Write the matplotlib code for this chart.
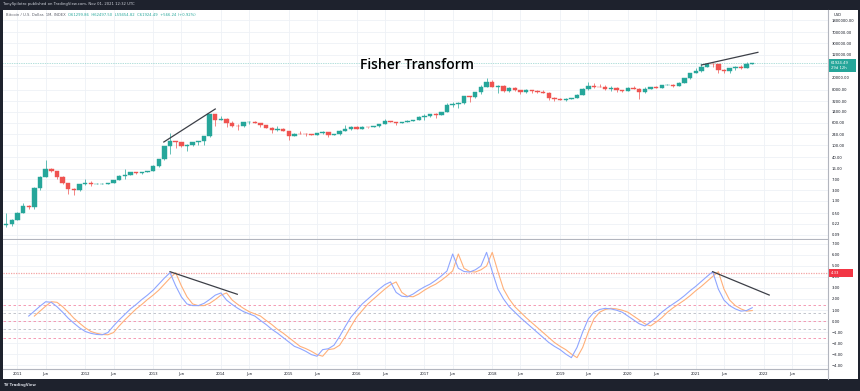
import numpy as np
import matplotlib.pyplot as plt
from matplotlib.patches import Rectangle
from matplotlib.ticker import NullLocator

# monthly BTC candles, Nov 2010 .. Nov 2021
opens = [0.19, 0.21, 0.30, 0.52, 0.86, 0.78, 3.50, 8.74, 16.1, 13.35, 8.19, 5.14, 3.25, 2.97,
         4.72, 5.48, 4.86, 4.90, 4.95, 5.18, 6.68, 9.35, 10.15, 12.40, 11.20, 12.57,
         13.51, 20.41, 33.38, 93, 139, 129, 97.5, 106, 129, 141, 204, 1129,
         750, 803, 573, 458, 447, 630, 640, 586, 481, 387, 338, 375,
         320, 217, 254, 244, 236, 230, 264, 284, 230, 236, 313, 377,
         430, 368, 437, 416, 448, 531, 673, 624, 575, 609, 700, 742,
         963, 970, 1190, 1080, 1348, 2300, 2480, 2875, 4700, 4340, 6450, 9950,
         13850, 10100, 10300, 6900, 9240, 7500, 6390, 7730, 7000, 6620, 6320, 4030,
         3740, 3450, 3830, 4100, 5320, 8570, 10820, 10080, 9590, 8300, 9150, 7550,
         7200, 9350, 8540, 6420, 8620, 9450, 9140, 11350, 11650, 10780, 13800, 19700,
         28990, 33110, 45140, 58790, 57720, 37330, 35040, 41460, 47100, 43820,
         61299.86]
highs = [0.50, 0.31, 0.56, 1.10, 0.95, 4.0, 8.9, 32.0, 16.6, 13.9, 8.9, 5.2, 3.6, 4.8,
         7.2, 6.3, 5.4, 5.3, 5.2, 6.7, 9.6, 16.4, 12.9, 12.7, 12.6, 13.9,
         20.8, 33.4, 95, 266, 140, 129, 111, 130, 145, 215, 1163, 1155,
         1000, 850, 700, 545, 630, 680, 660, 600, 500, 412, 455, 395,
         320, 265, 300, 260, 248, 268, 318, 286, 245, 330, 500, 470,
         460, 445, 440, 470, 550, 780, 705, 625, 630, 720, 760, 980,
         1150, 1200, 1290, 1350, 2770, 3000, 2930, 4750, 5000, 6470, 11400, 19800,
         17250, 11800, 11700, 9800, 10000, 7800, 8500, 7750, 7410, 7680, 6550, 4300,
         4100, 4200, 4150, 5650, 9100, 13900, 13200, 12300, 10950, 10500, 9500, 7750,
         9600, 10500, 9200, 9450, 10080, 10400, 11450, 12480, 12100, 14100, 19900, 29300,
         41950, 58350, 61800, 64900, 59600, 41300, 42400, 50500, 52900, 67000,
         62497.50]
lows = [0.17, 0.18, 0.29, 0.52, 0.70, 0.68, 3.0, 8.7, 12.5, 7.0, 4.8, 2.3, 2.0, 2.8,
        4.6, 4.3, 4.7, 4.8, 4.9, 5.15, 6.6, 7.1, 9.9, 10.6, 10.5, 12.2,
        13.3, 19.1, 33.2, 50, 79, 88, 65, 98, 106, 105, 197, 455,
        740, 440, 440, 340, 440, 550, 565, 430, 380, 275, 320, 300,
        152, 212, 236, 213, 225, 220, 253, 195, 226, 235, 310, 345,
        355, 365, 405, 414, 438, 525, 610, 480, 570, 605, 690, 740,
        750, 920, 890, 1060, 1340, 2100, 1830, 2670, 2970, 4100, 5500, 9800,
        9400, 5900, 6550, 6450, 7000, 5750, 6100, 5880, 6100, 6200, 3650, 3180,
        3400, 3380, 3680, 4050, 5300, 7500, 9100, 9400, 7700, 7300, 6500, 6450,
        6900, 8450, 3850, 6150, 8100, 8900, 8950, 10950, 9850, 10400, 13200, 17600,
        28150, 32300, 45000, 47000, 30000, 28800, 29300, 37300, 39600, 43300,
        59454.82]
closes = [0.21, 0.30, 0.52, 0.86, 0.78, 3.50, 8.74, 16.1, 13.35, 8.19, 5.14, 3.25, 2.97, 4.72,
          5.48, 4.86, 4.90, 4.95, 5.18, 6.68, 9.35, 10.15, 12.40, 11.20, 12.57, 13.51,
          20.41, 33.38, 93, 139, 129, 97.5, 106, 129, 141, 204, 1129, 750,
          803, 573, 458, 447, 630, 640, 586, 481, 387, 338, 375, 320,
          217, 254, 244, 236, 230, 264, 284, 230, 236, 313, 377, 430,
          368, 437, 416, 448, 531, 673, 624, 575, 609, 700, 742, 963,
          970, 1190, 1080, 1348, 2300, 2480, 2875, 4700, 4340, 6450, 9950, 13850,
          10100, 10300, 6900, 9240, 7500, 6390, 7730, 7000, 6620, 6320, 4030, 3740,
          3450, 3830, 4100, 5320, 8570, 10820, 10080, 9590, 8300, 9150, 7550, 7200,
          9350, 8540, 6420, 8620, 9450, 9140, 11350, 11650, 10780, 13800, 19700, 28990,
          33110, 45140, 58790, 57720, 37330, 35040, 41460, 47100, 43820, 61300,
          61924.49]

# Fisher transform values, first value sits on bar 4 (Mar 2011)
fisher_start = 4
fisher = [0.45, 0.9, 1.35, 1.75, 1.7, 1.3, 0.8, 0.25, -0.2, -0.62, -0.95, -1.12, -1.22, -1.25,
          -1.05, -0.45, 0.1, 0.6, 1.1, 1.5, 1.95, 2.35, 2.8, 3.35, 3.9, 4.39,
          3.2, 2.2, 1.55, 1.4, 1.4, 1.6, 1.95, 2.35, 2.55, 1.9, 1.5, 1.15,
          0.85, 0.65, 0.45, 0.05, -0.32, -0.75, -1.1, -1.5, -1.9, -2.3, -2.5, -2.75,
          -3.05, -3.2, -2.6, -2.52, -2.2, -1.4, -0.5, 0.35, 0.95, 1.55, 2.0, 2.45,
          2.9, 3.3, 3.55, 2.6, 2.25, 2.2, 2.45, 2.8, 3.1, 3.35, 3.7, 4.1,
          4.55, 6.09, 4.79, 4.5, 4.45, 4.65, 5.0, 6.24, 4.5, 2.9, 2.0, 1.3,
          0.8, 0.3, -0.15, -0.6, -1.05, -1.5, -1.95, -2.3, -2.6, -3.0, -3.33, -2.4,
          -1.0, 0.2, 0.8, 1.05, 1.15, 1.1, 0.98, 0.8, 0.45, 0.1, -0.25, -0.45,
          -0.1, 0.3, 0.8, 1.2, 1.55, 1.9, 2.3, 2.75, 3.15, 3.6, 4.05, 4.48,
          2.9, 1.9, 1.4, 1.1, 0.9, 0.95, 1.21]

price_ticks = [0.09, 0.22, 0.5, 1.3, 3, 7, 16, 40, 100, 240, 600, 1400, 3200, 8000,
               20000, 50000, 120000, 300000, 700000, 1800000]
hidden_tick = 50000  # sits behind the last-price tag
fisher_ticks = [-4, -3, -2, -1, 0, 1, 2, 3, 4, 5, 6, 7]
levels_pink = [1.5, 0, -1.5]
levels_gray = [0.75, -0.75]
marked_level = 4.33

tick_idx = [2, 7, 14, 19, 26, 31, 38, 43, 50, 55, 62, 67, 74, 79, 86, 91, 98, 103,
            110, 115, 122, 127, 134, 139]
tick_lab = ['2011', 'Jun', '2012', 'Jun', '2013', 'Jun', '2014', 'Jun', '2015', 'Jun',
            '2016', 'Jun', '2017', 'Jun', '2018', 'Jun', '2019', 'Jun', '2020', 'Jun',
            '2021', 'Jun', '2022', 'Jun']

# hand drawn trend lines (bar index, value)
price_lines = [([27.9, 37.0], [131, 1737]), ([123.0, 133.0], [54500, 147000])]
fisher_lines = [([29.0, 40.9], [4.48, 2.43]), ([125.0, 135.0], [4.48, 2.36])]

W, H = 860, 391
UP, DOWN = '#26a69a', '#ef5350'
TXT = '#131722'
FS = 2.7

fig = plt.figure(figsize=(W / 100, H / 100), dpi=100, facecolor='#1e222d')

def fx(px):
    return px / W

def fy(py):
    return 1 - py / H

# white chart canvas
fig.patches.append(Rectangle((fx(3), fy(379)), fx(855), 369 / H, transform=fig.transFigure,
                             facecolor='white', edgecolor='none', zorder=-5))

ax = fig.add_axes([fx(3), fy(239), 825 / W, 229 / H])
ax2 = fig.add_axes([fx(3), fy(369), 825 / W, 129 / H], sharex=ax)

# candles
x = np.arange(len(closes))
o = np.array(opens); c = np.array(closes); h = np.array(highs); l = np.array(lows)
col = np.where(c >= o, UP, DOWN)
ax.vlines(x, l, h, colors=col, lw=0.5, zorder=3)
ax.bar(x, np.abs(c - o), bottom=np.minimum(o, c), width=0.78, color=col,
       edgecolor=col, lw=0.3, zorder=4)

ax.set_yscale('log')
ax.set_ylim(0.0657, 4.05e6)
ax.set_xlim(-0.55, 145.4)
ax.yaxis.tick_right()
ax.set_yticks(price_ticks)
ax.set_yticklabels(['' if v == hidden_tick else f'{v:.2f}' for v in price_ticks])
ax.yaxis.set_minor_locator(NullLocator())
ax.tick_params(axis='y', length=0, pad=2.6, labelsize=FS, labelcolor=TXT)
ax.tick_params(axis='x', length=0, labelbottom=False)
ax.set_xticks(tick_idx)
ax.grid(color='#eef1f6', lw=0.6, zorder=0)
ax.axhline(closes[-1], color=UP, lw=0.5, ls=(0, (1, 1.5)), alpha=0.7, zorder=2)
for xs, ys in price_lines:
    ax.plot(xs, ys, color='#3c3f47', lw=0.9, zorder=6)

# fisher pane
xf = np.arange(fisher_start, fisher_start + len(fisher))
for lv in levels_pink:
    ax2.axhline(lv, color='#f28aa8', lw=0.6, ls=(0, (3, 3)), zorder=2)
for lv in levels_gray:
    ax2.axhline(lv, color='#b8bbc4', lw=0.6, ls=(0, (3, 3)), zorder=2)
ax2.axhline(marked_level, color='#f4a3a3', lw=0.9, ls=(0, (1, 1)), zorder=2)
ax2.plot(xf, fisher, color='#8fa6ff', lw=0.8, zorder=4)
ax2.plot(xf[1:], fisher[:-1], color='#ffb07a', lw=0.8, zorder=3)
for xs, ys in fisher_lines:
    ax2.plot(xs, ys, color='#3c3f47', lw=0.9, zorder=6)

ax2.set_ylim(-4.36, 7.36)
ax2.yaxis.tick_right()
ax2.set_yticks(fisher_ticks)
ax2.set_yticklabels([f'{v:.2f}'.replace('-', '\u2212') for v in fisher_ticks])
ax2.tick_params(axis='y', length=0, pad=2.6, labelsize=FS, labelcolor=TXT)
ax2.set_xticks(tick_idx)
ax2.set_xticklabels(tick_lab)
ax2.tick_params(axis='x', length=0, pad=2.4, labelsize=FS, labelcolor=TXT)
ax2.grid(color='#eef1f6', lw=0.6, zorder=0)

for a in (ax, ax2):
    a.set_facecolor('white')
    for s in ('left', 'top'):
        a.spines[s].set_visible(False)
    a.spines['right'].set_color('#b2b5be')
    a.spines['right'].set_linewidth(0.8)
    a.spines['bottom'].set_color('#b2b5be')
    a.spines['bottom'].set_linewidth(0.8)
fig.add_artist(plt.Line2D([fx(828), fx(828)], [fy(369), fy(379)], transform=fig.transFigure,
                          color='#b2b5be', lw=0.8))

# axis tags
fig.patches.append(Rectangle((fx(828.5), fy(72)), 27 / W, 13 / H, transform=fig.transFigure,
                             facecolor=UP, edgecolor='none', zorder=5))
fig.text(fx(831), fy(65.5), '61924.49\n29d 12h', color='white', fontsize=FS, va='center',
         linespacing=1.5, zorder=6)
fig.patches.append(Rectangle((fx(828.5), fy(277)), 24 / W, 8 / H, transform=fig.transFigure,
                             facecolor='#f23645', edgecolor='none', zorder=5))
fig.text(fx(831), fy(273), '4.33', color='white', fontsize=FS, va='center', zorder=6)
fig.text(fx(838), fy(14.5), 'USD', color=TXT, fontsize=FS, va='center', ha='center')

# header / legend / footer
fig.text(fx(3), fy(4.5), 'TonySpilotro published on TradingView.com, Nov 01, 2021 12:32 UTC',
         color='#d1d4dc', fontsize=FS, va='center')
fig.text(fx(6.5), fy(14.7), 'Bitcoin / U.S. Dollar, 1M, INDEX', color='#5d606b',
         fontsize=FS, va='center')
fig.text(fx(68), fy(14.7), 'O61299.86  H62497.50  L59454.82  C61924.49  +566.24 (+0.92%)',
         color=UP, fontsize=FS, va='center')
fig.text(fx(3), fy(385), 'TV TradingView', color='#d1d4dc', fontsize=FS, va='center',
         fontweight='bold')

fig.text(fx(417.5), fy(65), 'Fisher Transform', fontsize=10, fontweight='semibold',
         family='Open Sans', color='black', ha='center', va='center')

fig.savefig('out.png', dpi=100, facecolor=fig.get_facecolor())
